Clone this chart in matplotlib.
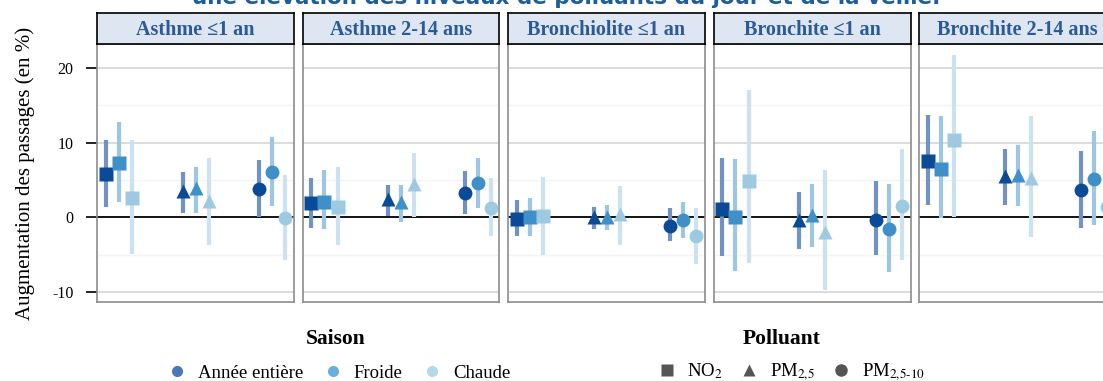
import numpy as np
import matplotlib
matplotlib.use('Agg')
from matplotlib import pyplot as plt
from matplotlib.lines import Line2D

plt.rcParams['font.family'] = ['Liberation Serif', 'DejaVu Serif']
plt.rcParams['mathtext.fontset'] = 'stix'

panels = ['Asthme ≤1 an', 'Asthme 2-14 ans', 'Bronchiolite ≤1 an',
          'Bronchite ≤1 an', 'Bronchite 2-14 ans']
pollutants = ['NO$_2$', 'PM$_{2{,}5}$', 'PM$_{2{,}5\u201010}$']
seasons = ['Année entière', 'Froide', 'Chaude']

# estimates [panel][pollutant][season]
est = [
    [[5.8, 7.3, 2.6], [3.5, 3.9, 2.2], [3.8, 6.1, -0.1]],
    [[1.9, 2.1, 1.4], [2.5, 2.0, 4.4], [3.3, 4.6, 1.3]],
    [[-0.2, 0.0, 0.2], [0.1, 0.1, 0.4], [-1.1, -0.4, -2.5]],
    [[1.1, 0.1, 4.9], [-0.4, 0.3, -2.0], [-0.3, -1.6, 1.5]],
    [[7.5, 6.4, 10.3], [5.5, 5.6, 5.2], [3.7, 5.1, 1.4]],
]
low = [
    [[1.4, 2.1, -4.9], [0.6, 0.6, -3.7], [0.1, 1.5, -5.7]],
    [[-1.4, -1.6, -3.7], [0.2, -0.6, 0.0], [0.5, 1.2, -2.5]],
    [[-2.5, -2.5, -5.0], [-1.6, -1.7, -3.7], [-3.2, -2.8, -6.2]],
    [[-5.2, -7.2, -6.1], [-4.2, -4.0, -9.8], [-5.0, -7.3, -5.7]],
    [[1.7, -0.1, 0.1], [1.6, 1.5, -2.6], [-1.4, -1.0, -4.0]],
]
high = [
    [[10.4, 12.8, 10.4], [6.0, 6.8, 7.9], [7.7, 10.7, 5.7]],
    [[5.2, 6.3, 6.8], [4.3, 4.3, 8.6], [6.2, 8.0, 5.2]],
    [[2.3, 2.6, 5.4], [1.4, 1.6, 4.2], [1.2, 2.0, 1.3]],
    [[7.9, 7.8, 17.0], [3.4, 4.5, 6.3], [4.8, 4.4, 9.2]],
    [[13.7, 13.5, 21.7], [9.2, 9.7, 13.5], [8.9, 11.6, 7.0]],
]

col_pt = ['#0b4a96', '#3f8fc8', '#9ecae1']
col_err = ['#7193c4', '#9cc6e4', '#cde2f0']
col_leg = ['#4a78b5', '#6aaedb', '#b6d6ea']
markers = ['s', '^', 'o']
msize = [9.5, 10.5, 10]

W, H = 1103, 381
fig = plt.figure(figsize=(W / 100, H / 100), dpi=100)

fig.text(566 / W, 1 - 4 / H,
         "une élévation des niveaux de polluants du jour et de la veille.",
         ha='center', va='baseline', fontsize=15.5, fontweight='bold',
         color='#1f5c9e', family='DejaVu Sans')

dodge = 0.17
for i, name in enumerate(panels):
    left = 97 + i * 205.5
    ax = fig.add_axes([left / W, (H - 302) / H, 197 / W, 258 / H])
    ax.set_xlim(0.713, 3.285)
    ax.set_ylim(-11.34, 23.2)
    for y in [-5, 5, 15]:
        ax.axhline(y, color='#f4f4f4', lw=1, zorder=0)
    for y in [-10, 10, 20]:
        ax.axhline(y, color='#d6d6d6', lw=1.2, zorder=0)
    ax.axhline(0, color='black', lw=1.3, zorder=1)
    for p in range(3):
        for s in range(3):
            x = p + 1 + (s - 1) * dodge
            ax.vlines(x, low[i][p][s], high[i][p][s], color=col_err[s],
                      lw=3, zorder=2)
            ax.plot(x, est[i][p][s], marker=markers[p], ms=msize[p],
                    color=col_pt[s], mec='none', zorder=3)
    for sp in ax.spines.values():
        sp.set_color('#8c8c8c')
        sp.set_linewidth(1.2)
    ax.set_xticks([])
    if i == 0:
        ax.set_yticks([-10, 0, 10, 20])
        ax.set_yticklabels(['-10', '0', '10', '20'])
        ax.tick_params(axis='y', length=8, width=1.2, labelsize=11.5, pad=9)
        ax.set_ylabel('Augmentation des passages (en %)', fontsize=15, labelpad=12)
    else:
        ax.set_yticks([])

    sx = fig.add_axes([left / W, (H - 44) / H, 197 / W, 31 / H])
    sx.set_facecolor('#dde6f1')
    sx.set_xticks([])
    sx.set_yticks([])
    for sp in sx.spines.values():
        sp.set_color('black')
        sp.set_linewidth(1.2)
    sx.text(0.5, 0.45, name, ha='center', va='center', fontsize=14.5,
            fontweight='bold', color='#2b5a97', transform=sx.transAxes)

fig.text(336 / W, 1 - 339 / H, 'Saison', ha='center', va='center',
         fontsize=15.5, fontweight='bold')
fig.text(782 / W, 1 - 339 / H, 'Polluant', ha='center', va='center',
         fontsize=15.5, fontweight='bold')

h1 = [Line2D([], [], ls='none', marker='o', ms=8, color=c, mec='none')
      for c in col_leg]
fig.legend(h1, seasons, loc='center', bbox_to_anchor=(338 / W, 1 - 373 / H),
           ncol=3, frameon=False, fontsize=13.5, handletextpad=0.5,
           columnspacing=1.0, handlelength=1.2)
h2 = [Line2D([], [], ls='none', marker=m, ms=9, color='#555555', mec='none')
      for m in markers]
fig.legend(h2, pollutants, loc='center', bbox_to_anchor=(790 / W, 1 - 372 / H),
           ncol=3, frameon=False, fontsize=13.5, handletextpad=0.5,
           columnspacing=0.8, handlelength=1.2)

fig.savefig('out.png', dpi=100)
